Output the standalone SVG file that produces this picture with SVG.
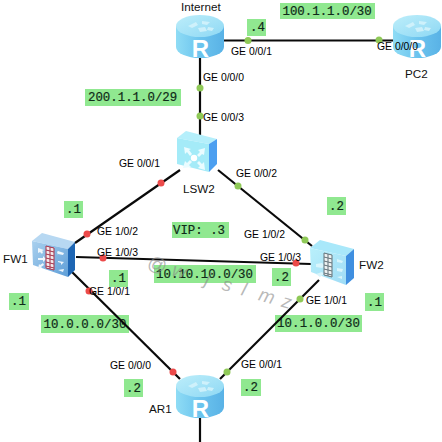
<svg xmlns="http://www.w3.org/2000/svg" xmlns:xlink="http://www.w3.org/1999/xlink" width="442" height="442" viewBox="0 0 442 442">
<style>
.ln{stroke:#0a0a0a;stroke-width:2.2;fill:none}
.g{fill:#8fc957}.r{fill:#ec4a4a}
.lb{fill:#90e890}
.m{font:12.4px "Liberation Mono","DejaVu Sans Mono",monospace;fill:#0f2a18;stroke:#0f2a18;stroke-width:.2}
.t{font:10.4px "Liberation Sans",Arial,sans-serif;fill:#000}
.n{font:11.7px "Liberation Sans",Arial,sans-serif;fill:#111}
.rt{font:bold 24px "Liberation Sans",Arial,sans-serif;fill:#fff;text-anchor:middle}
.wm{font:italic 19px "Liberation Sans",Arial,sans-serif;fill:#8a8a8a;fill-opacity:.6}
</style>
<defs>
<linearGradient id="rs" x1="0" x2="1" y1="0" y2="0"><stop offset="0" stop-color="#8fdcf5"/><stop offset=".5" stop-color="#6cc4ee"/><stop offset="1" stop-color="#59b2e6"/></linearGradient>
<linearGradient id="rt" x1="0" x2="1" y1="0" y2="1"><stop offset="0" stop-color="#bdeefa"/><stop offset="1" stop-color="#8ed8f4"/></linearGradient>
<linearGradient id="f1" x1="0" x2="1" y1="0" y2="1"><stop offset="0" stop-color="#a9d0ee"/><stop offset="1" stop-color="#5f9fd8"/></linearGradient>
<linearGradient id="f2" x1="0" x2="1" y1="0" y2="1"><stop offset="0" stop-color="#b9f0fb"/><stop offset="1" stop-color="#9fdcf6"/></linearGradient>
<g id="router">
<path d="M0 11V32A24 11 0 0 0 48 32V11Z" fill="url(#rs)"/>
<ellipse cx="24" cy="11" rx="24" ry="11" fill="url(#rt)"/>
<path d="M12 11l8-4 2 3-6 3zM26 6l8 1-3 3-5-1zM22 13l7-1 2 4-7 1zM32 12l6 1-2 3-5-1z" fill="#d8f4fb" opacity=".8"/>
<text class="rt" x="24.5" y="42">R</text>
</g>
</defs>
<rect width="442" height="442" fill="#fff"/>

<g id="subnet-labels">
<rect class="lb" x="280" y="3" width="95" height="16"/><text class="m" x="282.500" y="14.500">100.1.1.0/30</text>
<rect class="lb" x="247" y="19" width="19" height="17"/><text class="m" x="250" y="31">.4</text>
<rect class="lb" x="85" y="89" width="96" height="17"/><text class="m" x="88" y="101">200.1.1.0/29</text>
<rect class="lb" x="64" y="201" width="19" height="17"/><text class="m" x="66" y="213">.1</text>
<rect class="lb" x="172" y="222" width="57" height="16"/><text class="m" x="173" y="233.500">VIP: .3</text>
<rect class="lb" x="154" y="265" width="102" height="18"/><text class="m" x="156" y="277.500" textLength="97">10.10.10.0/30</text>
<rect class="lb" x="109" y="270" width="19" height="17"/><text class="m" x="111" y="282">.1</text>
<rect class="lb" x="9" y="293" width="20" height="17"/><text class="m" x="11" y="305">.1</text>
<rect class="lb" x="327" y="197" width="19" height="18"/><text class="m" x="329" y="210">.2</text>
<rect class="lb" x="272" y="268" width="19" height="18"/><text class="m" x="274" y="281">.2</text>
<rect class="lb" x="365" y="293" width="19" height="18"/><text class="m" x="367" y="306">.1</text>
<rect class="lb" x="41" y="315" width="88" height="18"/><text class="m" x="43.500" y="327.500" textLength="83">10.0.0.0/30</text>
<rect class="lb" x="275" y="315" width="87" height="17"/><text class="m" x="277" y="327" textLength="83">10.1.0.0/30</text>
<rect class="lb" x="124" y="379" width="19" height="18"/><text class="m" x="126" y="391.500">.2</text>
<rect class="lb" x="241" y="379" width="20" height="17"/><text class="m" x="243" y="391">.2</text>
</g>

<g id="connectors">
<line class="ln" x1="224" y1="40.500" x2="393" y2="40.500"/>
<line class="ln" x1="200" y1="58" x2="200" y2="135"/>
<line class="ln" x1="180" y1="170" x2="75" y2="243"/>
<line class="ln" x1="218" y1="170" x2="312" y2="246"/>
<line class="ln" x1="76" y1="257" x2="311" y2="264"/>
<line class="ln" x1="72" y1="272" x2="180" y2="379"/>
<line class="ln" x1="319" y1="280" x2="220" y2="379"/>
<line class="ln" x1="200" y1="417" x2="200" y2="442"/>
<circle class="g" cx="248" cy="40.500" r="3.500"/>
<circle class="g" cx="379" cy="40" r="3.500"/>
<circle class="g" cx="200" cy="88" r="3.500"/>
<circle class="g" cx="200" cy="116" r="3.500"/>
<circle class="r" cx="161" cy="183" r="3.500"/>
<circle class="r" cx="87" cy="234" r="3.500"/>
<circle class="g" cx="238" cy="186" r="3.500"/>
<circle class="g" cx="305" cy="240" r="3.500"/>
<circle class="r" cx="103" cy="258" r="3.500"/>
<circle class="r" cx="296" cy="263" r="3.500"/>
<circle class="r" cx="89" cy="291" r="3.500"/>
<circle class="r" cx="173" cy="372" r="3.500"/>
<circle class="g" cx="300" cy="299" r="3.500"/>
<circle class="g" cx="227" cy="372" r="3.500"/>
</g>

<g id="Internet">
<use xlink:href="#router" href="#router" x="176" y="15"/>
<text class="n" x="181" y="11">Internet</text>
</g>
<g id="PC2">
<use xlink:href="#router" href="#router" x="393" y="15"/>
<text class="n" x="405" y="78">PC2</text>
</g>
<g id="AR1">
<use xlink:href="#router" href="#router" x="176" y="375"/>
<text class="n" x="149" y="413">AR1</text>
</g>
<g id="LSW2">
<path d="M177 138L186 131L217 139L209 144Z" fill="#b5effb"/>
<path d="M177 138L209 144V172L177 164Z" fill="#a4ebf8"/>
<path d="M209 144L217 139V164L209 172Z" fill="#4c9ff0"/>
<circle cx="194" cy="158" r="3.200" fill="#fff"/>
<path d="M184 147l7 2-2 1 3 4-2 2-3-4-2 2zM205 148l-1 7-2-1-3 3-2-2 3-3-2-2zM183 168l2-7 2 2 3-3 2 2-3 3 2 2zM205 170l-7-2 2-2-3-3 2-2 3 3 2-2z" fill="#eafcff"/>
<text class="n" x="183" y="193">LSW2</text>
</g>
<g id="FW1">
<path d="M32 241L42 233L75 242L68 249Z" fill="#b7d8f2"/>
<path d="M32 241L68 249V277L33 265Z" fill="url(#f1)"/>
<path d="M68 249L75 242V270L68 277Z" fill="#1e66b4"/>
<path d="M38 248l6 2-2 1 1 1-1 2-2-2-2 1zM38 258h5v-2l3 3-3 3v-2h-5zM38 269l1-5 1 1 3-2 1 2-3 2 1 1zM58 251l6 2-1 2-5-1v1l-1-3zM58 261l6 1-3 3v-2l-3-1zM58 270l6-1-1 3z" fill="#eef6fc"/>
<path d="M46 246l8 2v22l-8-2z" fill="#f3e9ea" stroke="#a8324a" stroke-width="1"/>
<path d="M46 250l8 2M46 254l8 2M46 258l8 2M46 262l8 2M46 266l8 2M50 247v22" stroke="#a8324a" stroke-width="1" fill="none"/>
<text class="n" x="3" y="263">FW1</text>
</g>
<g id="FW2">
<path d="M310 248L320 240L354 249L346 256Z" fill="#a9e8fa"/>
<path d="M310 248L346 256V285L311 272Z" fill="url(#f2)"/>
<path d="M346 256L354 249V278L346 285Z" fill="#3f8fe0"/>
<path d="M316 264l6-1 3 3-3 2-6-1zM316 274l6-2 2 2-4 3zM337 259l6 2-1 2-5-1zM337 268l6 1-1 3-5-1zM337 277l5-1 0 3z" fill="#d8f5fc"/>
<path d="M324 253l8 2v22l-8-2z" fill="#eef2f2" stroke="#64737a" stroke-width="1"/>
<path d="M324 257l8 2M324 261l8 2M324 265l8 2M324 269l8 2M324 273l8 2M328 254v22" stroke="#64737a" stroke-width="1" fill="none"/>
<text class="n" x="359" y="269">FW2</text>
</g>

<g id="port-labels">
<text class="t" x="231" y="55">GE 0/0/1</text>
<text class="t" x="377" y="50">GE 0/0/0</text>
<text class="t" x="203" y="81">GE 0/0/0</text>
<text class="t" x="203" y="121">GE 0/0/3</text>
<text class="t" x="119" y="167">GE 0/0/1</text>
<text class="t" x="236" y="177">GE 0/0/2</text>
<text class="t" x="97" y="235">GE 1/0/2</text>
<text class="t" x="97" y="256">GE 1/0/3</text>
<text class="t" x="89" y="295">GE 1/0/1</text>
<text class="t" x="244" y="238">GE 1/0/2</text>
<text class="t" x="260" y="261">GE 1/0/3</text>
<text class="t" x="306" y="304">GE 1/0/1</text>
<text class="t" x="110" y="369">GE 0/0/0</text>
<text class="t" x="241" y="368">GE 0/0/1</text>
</g>

<text class="wm" transform="translate(146 268) rotate(16)" x="0 26 60 78 98 116 140">@wjslmz</text>
</svg>
